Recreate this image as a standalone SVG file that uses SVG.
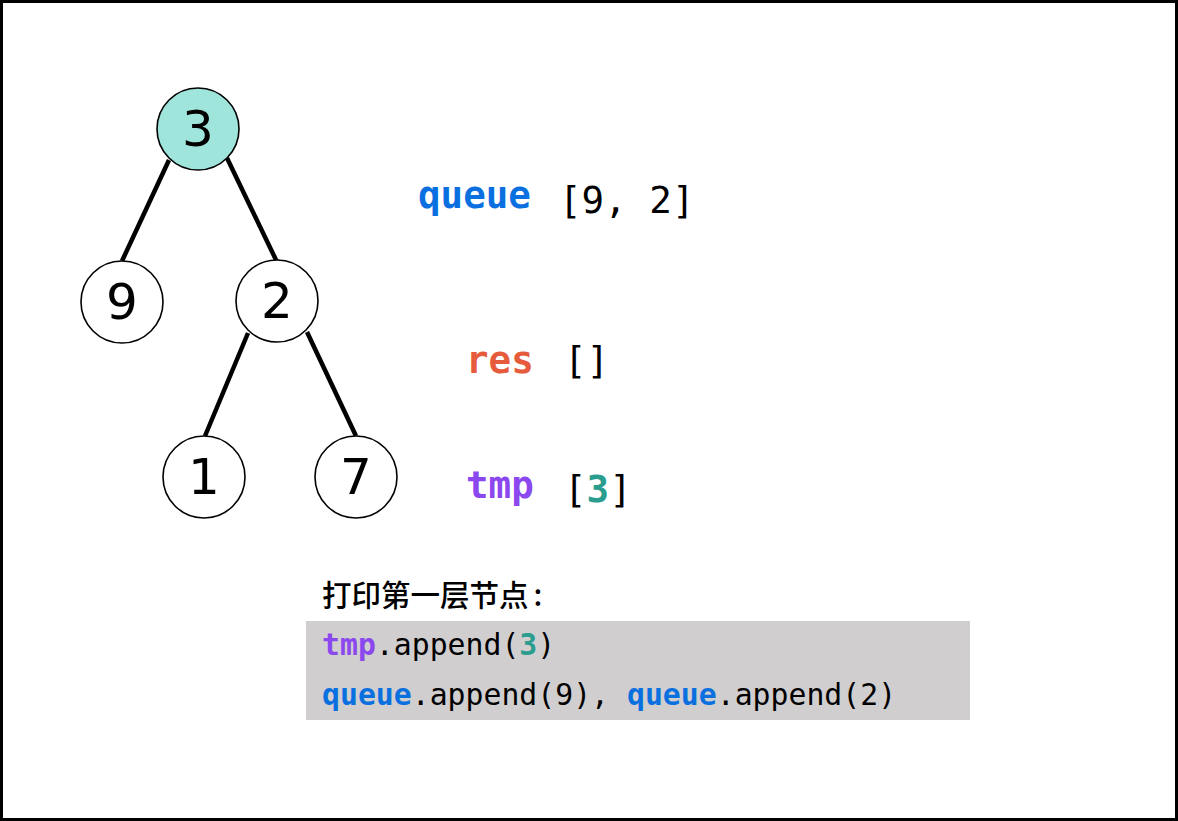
<svg xmlns="http://www.w3.org/2000/svg" width="1178" height="821" viewBox="0 0 1178 821">
<style>
.node circle{stroke:#000;stroke-width:1.6;fill:#fff}
.node text{font-family:"DejaVu Sans",sans-serif;font-size:50px;text-anchor:middle;fill:#000}
.edge{stroke:#000;stroke-width:4.5;stroke-linecap:butt}
.mono{font-family:"DejaVu Sans Mono","Liberation Mono",monospace}
.big{font-size:37.5px}
.code{font-size:29.8px}
.b{font-weight:bold}
.blue{fill:#0a70e0}
.red{fill:#e55b3c}
.purple{fill:#8b48ee}
.teal{fill:#2a9d8f}
</style>
<rect x="1.5" y="1.5" width="1175" height="818" fill="#fff" stroke="#000" stroke-width="3"/>
<g id="connectors">
<line class="edge" x1="169" y1="160" x2="122" y2="261"/>
<line class="edge" x1="227" y1="158" x2="277" y2="262"/>
<line class="edge" x1="248" y1="333" x2="205" y2="436"/>
<line class="edge" x1="307" y1="332" x2="356" y2="436"/>
</g>
<g id="node-3" class="node"><circle cx="198" cy="129" r="41" style="fill:#a0e5dc"/><text x="198" y="146">3</text></g>
<g id="node-9" class="node"><circle cx="122" cy="302" r="41"/><text x="122" y="319">9</text></g>
<g id="node-2" class="node"><circle cx="277" cy="301" r="41"/><text x="277" y="318">2</text></g>
<g id="node-1" class="node"><circle cx="204" cy="477" r="41"/><text x="204" y="494">1</text></g>
<g id="node-7" class="node"><circle cx="356" cy="477" r="41"/><text x="356" y="494">7</text></g>
<g id="state">
<text class="mono big b blue" x="418" y="208">queue</text>
<text class="mono big" x="559" y="213">[9, 2]</text>
<text class="mono big b red" x="466" y="373">res</text>
<text class="mono big" x="564" y="373">[]</text>
<text class="mono big b purple" x="466" y="498">tmp</text>
<text class="mono big" x="564" y="502">[<tspan class="b teal">3</tspan>]</text>
</g>
<g id="caption">
<text x="322" y="606" style="font-family:'Noto Sans CJK SC','Noto Sans',sans-serif;font-size:29.5px;font-weight:500">打印第一层节点<tspan dx="5">:</tspan></text>
</g>
<g id="code">
<rect x="306" y="621" width="664" height="99" fill="#d0cecf"/>
<text class="mono code" x="322" y="655"><tspan class="b purple">tmp</tspan>.append(<tspan class="b teal">3</tspan>)</text>
<text class="mono code" x="322" y="705"><tspan class="b blue">queue</tspan>.append(9), <tspan class="b blue">queue</tspan>.append(2)</text>
</g>
</svg>
